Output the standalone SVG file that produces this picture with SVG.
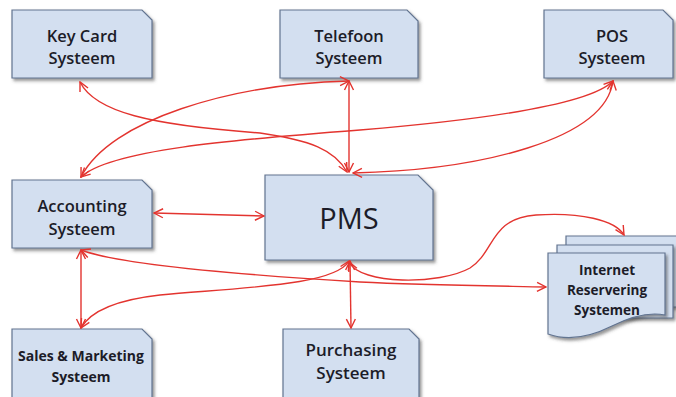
<svg xmlns="http://www.w3.org/2000/svg" width="676" height="397" viewBox="0 0 676 397">
<defs>
<filter id="sh" x="-10%" y="-10%" width="130%" height="140%">
<feDropShadow dx="2" dy="2.5" stdDeviation="1.5" flood-color="#404040" flood-opacity="0.55"/>
</filter>
<marker id="ah" viewBox="-1 -6 11 12" refX="9" refY="0" markerWidth="11" markerHeight="12" markerUnits="userSpaceOnUse" orient="auto-start-reverse">
<path d="M0,-4.5 L9,0 L0,4.5" fill="none" stroke="#e3342f" stroke-width="1.4"/>
</marker>
</defs>
<style>
.box{fill:#d3dff0;stroke:#627490;stroke-width:1.2;filter:url(#sh)}
.t{font-family:"Open Sans","Noto Sans",sans-serif;fill:#1c1c28;text-anchor:middle;font-weight:600;font-size:16.5px}
.tb{font-family:"Open Sans","Noto Sans",sans-serif;fill:#1c1c28;text-anchor:middle;font-weight:700;font-size:13.5px}
.c{fill:none;stroke:#e3342f;stroke-width:1.4;marker-start:url(#ah);marker-end:url(#ah)}
</style>
<rect width="676" height="397" fill="#ffffff"/>

<g id="keycard">
<path class="box" d="M12,10 H142 L152,20 V78 H12 Z"/>
<text class="t" x="82" y="42">Key Card</text>
<text class="t" x="82" y="64">Systeem</text>
</g>
<g id="telefoon">
<path class="box" d="M280,10 H407 L418,21 V78 H280 Z"/>
<text class="t" x="349" y="42">Telefoon</text>
<text class="t" x="349" y="64">Systeem</text>
</g>
<g id="pos">
<path class="box" d="M544,10 H663 L673,20 V78 H544 Z"/>
<text class="t" x="612" y="42">POS</text>
<text class="t" x="612" y="64">Systeem</text>
</g>
<g id="accounting">
<path class="box" d="M12,180 H142 L152,190 V248 H12 Z"/>
<text class="t" x="82" y="212">Accounting</text>
<text class="t" x="82" y="235">Systeem</text>
</g>
<g id="pms">
<path class="box" d="M265,175 H418 L433,190 V260 H265 Z"/>
<text class="t" x="349" y="229" style="font-size:29px;font-weight:400">PMS</text>
</g>
<g id="sales">
<path class="box" d="M12,329 H142 L152,339 V404 H12 Z"/>
<text class="t" x="81" y="361" style="font-size:14px;font-weight:700">Sales &amp; Marketing</text>
<text class="t" x="81" y="382" style="font-size:14px;font-weight:700">Systeem</text>
</g>
<g id="purchasing">
<path class="box" d="M283,329 H409 L419,339 V404 H283 Z"/>
<text class="t" x="351" y="356" style="font-size:17px">Purchasing</text>
<text class="t" x="351" y="379" style="font-size:17px">Systeem</text>
</g>
<g id="internet">
<path class="box" d="M566,236 H680 V307 H566 Z"/>
<path class="box" d="M557,245 H673 V318 H557 Z"/>
<path class="box" d="M548,253 H665 V315 C650,312 632,316 612,326 C592,336 570,342 548,334 Z"/>
<text class="tb" x="607" y="275">Internet</text>
<text class="tb" x="607" y="295">Reservering</text>
<text class="tb" x="607" y="315">Systemen</text>
</g>

<g id="connectors">
<path class="c" d="M80,82 C95,112 150,125 260,133 C310,140 335,150 347,172"/>
<path class="c" d="M349,81 C230,84 110,120 81,177"/>
<path class="c" d="M613,81 C590,105 480,120 360,130 C230,140 110,150 81,177"/>
<path class="c" d="M613,81 C605,140 480,170 353,173"/>
<path class="c" d="M349,81 L349,172"/>
<path class="c" d="M154,213 L264,216"/>
<path class="c" d="M81,250 L81,328"/>
<path class="c" d="M81,250 C120,265 260,276 360,282 C420,285 500,286 546,287"/>
<path class="c" d="M349,261 C335,285 250,287 160,295 C115,300 90,312 81,328"/>
<path class="c" d="M350,261 L351,328"/>
<path class="c" d="M349,262 C360,285 440,285 470,268 C495,252 490,218 536,215 C580,212 615,220 624,235"/>
</g>
</svg>
